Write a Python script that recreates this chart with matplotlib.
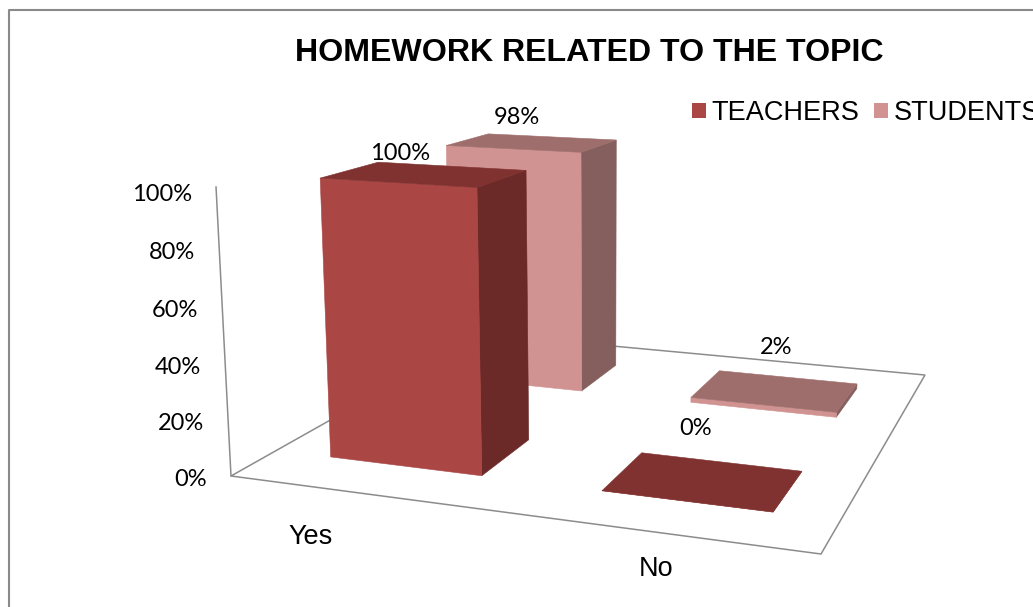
import matplotlib
matplotlib.use('Agg')
import matplotlib.pyplot as plt
import numpy as np
from matplotlib.patches import Patch, Polygon

categories = ['Yes', 'No']
series_names = ['TEACHERS', 'STUDENTS']
teachers = [100, 0]
students = [98, 2]
y_ticks = [0, 20, 40, 60, 80, 100]

# pixel positions of the floor corners and where vertical lines converge
floor_corners = [(231, 476), (821, 554), (925, 375), (483, 334)]
vanish = (600, 7597)
wall_scale = -0.039

bar_width = 0.286
bar_depth = 0.20
cat_centers = [0.25, 0.75]
back_cat_centers = [0.23, 0.743]
series_centers = [0.24, 0.755]

red = {'front': '#AA4643', 'top': '#803230', 'side': '#6B2A28'}
pink = {'front': '#D19392', 'top': '#9E6E6C', 'side': '#845F5D'}
line_grey = '#8C8C8C'

plt.rcParams['font.family'] = ['Liberation Sans', 'DejaVu Sans']


def floor_matrix(corners):
    # homography from the unit square to the floor corners
    uv = [(0, 0), (1, 0), (1, 1), (0, 1)]
    A = []
    b = []
    for (u, v), (x, y) in zip(uv, corners):
        A.append([u, v, 1, 0, 0, 0, -u * x, -v * x])
        A.append([0, 0, 0, u, v, 1, -u * y, -v * y])
        b += [x, y]
    s = np.linalg.solve(np.array(A, float), np.array(b, float))
    return np.array([[s[0], s[1], s[2]], [s[3], s[4], s[5]], [s[6], s[7], 1.0]])


H = floor_matrix(floor_corners)
z_col = wall_scale * np.array([vanish[0], vanish[1], 1.0])
P = np.column_stack([H[:, 0], H[:, 1], z_col, H[:, 2]])


def project(u, v, val):
    p = P @ np.array([u, v, val / 100.0, 1.0])
    return p[0] / p[2], p[1] / p[2]


fig = plt.figure(figsize=(10.33, 6.07), dpi=100)
ax = fig.add_axes([0, 0, 1, 1])
ax.set_xlim(0, 1033)
ax.set_ylim(607, 0)
ax.axis('off')

# chart area border
ax.plot([9, 9, 1033], [607, 10, 10], color='#8A8A8A', lw=1.5, zorder=1)

# floor and wall
floor = [project(0, 0, 0), project(1, 0, 0), project(1, 1, 0), project(0, 1, 0)]
ax.add_patch(Polygon(floor, closed=True, fill=False, ec=line_grey, lw=1.1, zorder=1))
wall_x, wall_y = zip(project(0, 0, 0), project(0, 0, 100))
ax.plot(wall_x, wall_y, color=line_grey, lw=1.1, zorder=1)

for t in y_ticks:
    x, y = project(0, 0, t)
    ax.text(x - 24, y + 3 + 0.04 * t, f'{t}%', family='Lato', fontsize=17, ha='right', va='center', color='black')


def draw_bar(cu, cv, val, colors, z):
    u0, u1 = cu - bar_width / 2, cu + bar_width / 2
    v0, v1 = cv - bar_depth / 2, cv + bar_depth / 2
    front = [project(u0, v0, 0), project(u1, v0, 0), project(u1, v0, val), project(u0, v0, val)]
    side = [project(u1, v0, 0), project(u1, v1, 0), project(u1, v1, val), project(u1, v0, val)]
    top = [project(u0, v0, val), project(u1, v0, val), project(u1, v1, val), project(u0, v1, val)]
    ax.add_patch(Polygon(side, closed=True, fc=colors['side'], ec=colors['side'], lw=0.4, zorder=z))
    ax.add_patch(Polygon(front, closed=True, fc=colors['front'], ec=colors['front'], lw=0.4, zorder=z))
    ax.add_patch(Polygon(top, closed=True, fc=colors['top'], ec=colors['top'], lw=0.4, zorder=z))


# back row first so the front row covers it
draw_bar(back_cat_centers[0], series_centers[1], students[0], pink, 2)
draw_bar(back_cat_centers[1], series_centers[1], students[1], pink, 2)
draw_bar(cat_centers[0], series_centers[0], teachers[0], red, 3)
draw_bar(cat_centers[1], series_centers[0], teachers[1], red, 3)

# data labels, nudged away from the bar tops
label_sets = [
    (teachers, cat_centers, series_centers[0], [(-25, -21), (-8, -52)]),
    (students, back_cat_centers, series_centers[1], [(-16, -25), (1, -43)]),
]
for vals, centers, cv, offsets in label_sets:
    for i, val in enumerate(vals):
        x, y = project(centers[i], cv, val)
        ax.text(x + offsets[i][0], y + offsets[i][1], f'{val}%', family='Lato', fontsize=17,
                ha='center', va='center', color='black', zorder=5)

# category labels under the front edge
cat_offsets = [(-54, 43), (-2, 36)]
for i, name in enumerate(categories):
    x, y = project(cat_centers[i], 0, 0)
    ax.text(x + cat_offsets[i][0], y + cat_offsets[i][1], name, fontsize=19.5, ha='center', va='center', color='black')

ax.text(589.5, 53, 'HOMEWORK RELATED TO THE TOPIC', fontsize=23.1, fontweight='bold', ha='center', va='center', color='black')

handles = [Patch(fc=red['front'], ec='none'), Patch(fc=pink['front'], ec='none')]
ax.legend(handles, series_names, ncols=2, frameon=False, fontsize=19.5, loc='center left',
          bbox_to_anchor=(692 / 1033, 1 - 113 / 607), handlelength=0.52, handleheight=0.52,
          handletextpad=0.2, columnspacing=0.55, borderpad=0, borderaxespad=0)

fig.savefig('out.png', dpi=100)
